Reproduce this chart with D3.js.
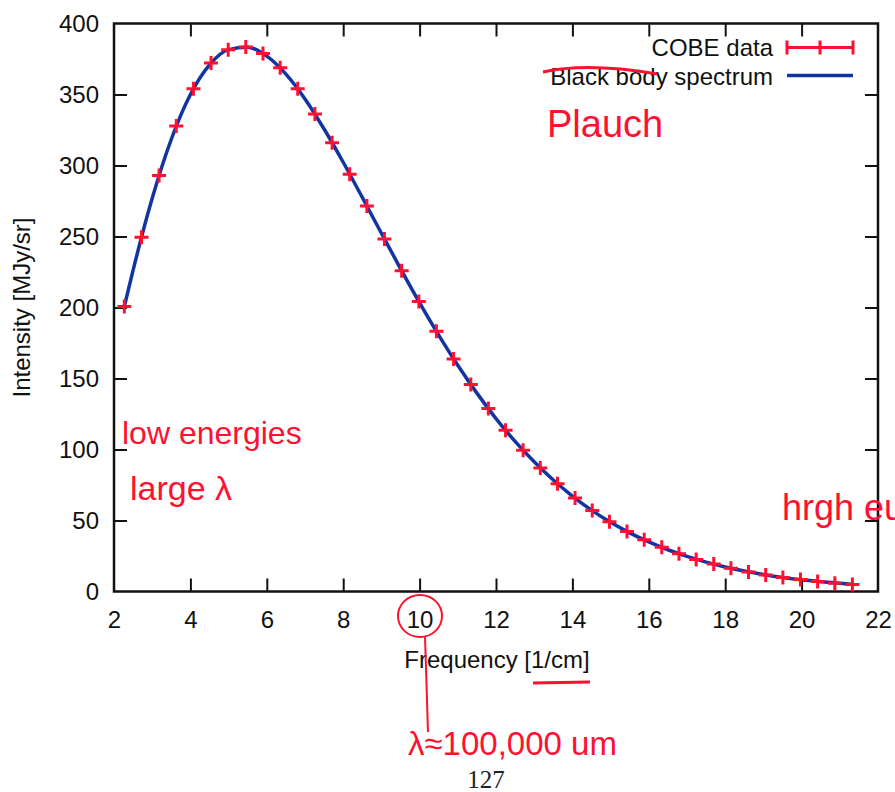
<!DOCTYPE html>
<html>
<head>
<meta charset="utf-8">
<script src="https://cdn.jsdelivr.net/npm/d3@7"></script>
<style>
  body { margin: 0; background: #fff; }
  text { font-family: "Liberation Sans", Arial, sans-serif; }
  .note { font-family: "Liberation Sans Narrow", "Liberation Sans", sans-serif; fill: #ff1030; }
</style>
</head>
<body>
<div id="wrapper"></div>
<script>
// COBE FIRAS data (frequency in 1/cm, intensity in MJy/sr)
const cobeFreq = [2.27, 2.72, 3.18, 3.63, 4.08, 4.54, 4.99, 5.45, 5.90, 6.35, 6.81, 7.26, 7.71,
  8.17, 8.62, 9.08, 9.53, 9.98, 10.44, 10.89, 11.34, 11.80, 12.25, 12.71, 13.16, 13.61, 14.07,
  14.52, 14.97, 15.43, 15.88, 16.34, 16.79, 17.24, 17.70, 18.15, 18.61, 19.06, 19.51, 19.97,
  20.42, 20.87, 21.33];
const cobeIntensity = [200.7, 249.5, 293.0, 327.8, 354.1, 372.1, 381.5, 383.5, 378.9, 368.8,
  354.1, 336.3, 316.1, 293.9, 271.4, 248.2, 225.9, 204.3, 183.3, 163.8, 145.8, 128.8, 113.6,
  99.5, 87.0, 75.9, 65.8, 57.0, 49.2, 42.3, 36.4, 31.1, 26.6, 22.6, 19.3, 16.4, 13.8, 11.7,
  9.9, 8.4, 7.1, 5.8, 5.0];

// black body curve
const curveFreq = [2.27, 2.5, 3, 3.5, 4, 4.5, 5, 5.5, 6, 6.5, 7, 7.5, 8, 8.5, 9, 9.5, 10, 10.5,
  11, 11.5, 12, 12.5, 13, 13.5, 14, 14.5, 15, 15.5, 16, 16.5, 17, 17.5, 18, 18.5, 19, 19.5, 20,
  20.5, 21, 21.33];
const curveIntensity = [200.7, 226.3, 276.9, 318.5, 350.0, 370.9, 381.6, 383.3, 377.0, 364.4,
  346.9, 325.7, 302.3, 277.5, 252.3, 227.4, 203.3, 180.6, 159.3, 139.7, 121.8, 105.7, 91.3,
  78.5, 67.2, 57.3, 48.7, 41.3, 34.9, 29.4, 24.7, 20.7, 17.3, 14.4, 12.0, 9.9, 8.2, 6.9, 5.8, 5.1];

const xTicks = [2, 4, 6, 8, 10, 12, 14, 16, 18, 20, 22];
const yTicks = [0, 50, 100, 150, 200, 250, 300, 350, 400];

const legendLabels = ["COBE data", "Black body spectrum"];

const red = "#ff1030";
const blue = "#1234a0";

const dimensions = {
  width: 895,
  height: 792,
  margin: { top: 23.5, bottom: 200.5, left: 114, right: 17 },
};
dimensions.boundedWidth = dimensions.width - dimensions.margin.left - dimensions.margin.right;
dimensions.boundedHeight = dimensions.height - dimensions.margin.top - dimensions.margin.bottom;

const wrapper = d3.select("#wrapper").append("svg")
  .attr("width", dimensions.width)
  .attr("height", dimensions.height);

const bounds = wrapper.append("g")
  .attr("transform", `translate(${dimensions.margin.left},${dimensions.margin.top})`);

const xScale = d3.scaleLinear().domain([2, 22]).range([0, dimensions.boundedWidth]);
const yScale = d3.scaleLinear().domain([0, 400]).range([dimensions.boundedHeight, 0]);

// axes: inward ticks on all four sides, labels on bottom/left
const tickLen = 13;
const styleAxis = (g) => {
  g.select(".domain").remove();
  g.selectAll(".tick line").attr("stroke", "#111").attr("stroke-width", 2);
  g.selectAll(".tick text").attr("fill", "#111").style("font-size", "24px");
};

bounds.append("g")
  .attr("transform", `translate(0,${dimensions.boundedHeight})`)
  .call(d3.axisBottom(xScale).tickValues(xTicks).tickSizeInner(-tickLen).tickPadding(tickLen + 6))
  .call(styleAxis);
bounds.append("g")
  .call(d3.axisTop(xScale).tickValues(xTicks).tickSizeInner(-tickLen).tickFormat(""))
  .call(styleAxis);
bounds.append("g")
  .call(d3.axisLeft(yScale).tickValues(yTicks).tickSizeInner(-tickLen).tickPadding(tickLen + 2))
  .call(styleAxis);
bounds.append("g")
  .attr("transform", `translate(${dimensions.boundedWidth},0)`)
  .call(d3.axisRight(yScale).tickValues(yTicks).tickSizeInner(-tickLen).tickFormat(""))
  .call(styleAxis);

// hide end ticks that sit on the frame
bounds.selectAll(".tick").filter((d) => d === 2 || d === 22 || d === 0 || d === 400)
  .select("line").attr("stroke", "none");

bounds.append("rect")
  .attr("width", dimensions.boundedWidth)
  .attr("height", dimensions.boundedHeight)
  .attr("fill", "none")
  .attr("stroke", "#111")
  .attr("stroke-width", 2.5);

// curve
const lineGen = d3.line()
  .x((i) => xScale(curveFreq[i]))
  .y((i) => yScale(curveIntensity[i]))
  .curve(d3.curveMonotoneX);

bounds.append("path")
  .attr("d", lineGen(d3.range(curveFreq.length)))
  .attr("fill", "none")
  .attr("stroke", blue)
  .attr("stroke-width", 3.5);

// data crosses
const s = 7;
bounds.append("g").selectAll("path")
  .data(d3.range(cobeFreq.length))
  .join("path")
  .attr("transform", (i) => `translate(${xScale(cobeFreq[i])},${yScale(cobeIntensity[i])})`)
  .attr("d", `M${-s},0H${s}M0,${-s}V${s}`)
  .attr("stroke", red)
  .attr("stroke-width", 3)
  .attr("fill", "none");

// legend
const legend = bounds.append("g").attr("transform", `translate(${dimensions.boundedWidth - 105},0)`);
legend.append("text").attr("x", 0).attr("y", 32).attr("text-anchor", "end")
  .style("font-size", "24px").attr("fill", "#111").text(legendLabels[0]);
legend.append("text").attr("x", 0).attr("y", 61).attr("text-anchor", "end")
  .style("font-size", "24px").attr("fill", "#111").text(legendLabels[1]);
legend.append("path")
  .attr("d", "M14,24H80M14,17V31M47,17V31M80,17V31")
  .attr("stroke", red).attr("stroke-width", 3).attr("fill", "none");
legend.append("path")
  .attr("d", "M14,52H80")
  .attr("stroke", blue).attr("stroke-width", 3.5).attr("fill", "none");

// axis titles
wrapper.append("text")
  .attr("x", 497)
  .attr("y", 668)
  .attr("text-anchor", "middle")
  .style("font-size", "24px").attr("fill", "#111")
  .text("Frequency [1/cm]");
wrapper.append("text")
  .attr("transform", `translate(30,${dimensions.margin.top + dimensions.boundedHeight / 2})rotate(-90)`)
  .attr("text-anchor", "middle")
  .style("font-size", "24px").attr("fill", "#111")
  .text("Intensity [MJy/sr]");

// page number
wrapper.append("text")
  .attr("x", 486).attr("y", 788)
  .attr("text-anchor", "middle")
  .style("font-family", "'Liberation Serif', serif").style("font-size", "25px")
  .attr("fill", "#222")
  .text("127");

// handwritten notes
const notes = wrapper.append("g");
notes.append("text").attr("class", "note").attr("x", 547).attr("y", 137).style("font-size", "38px").text("Plauch");
notes.append("text").attr("class", "note").attr("x", 122).attr("y", 444).style("font-size", "32px").text("low energies");
notes.append("text").attr("class", "note").attr("x", 130).attr("y", 500).style("font-size", "34px").text("large λ");
notes.append("text").attr("class", "note").attr("x", 782).attr("y", 520).style("font-size", "36px").text("hrgh eu");
notes.append("text").attr("class", "note").attr("x", 408).attr("y", 755).style("font-size", "33px").text("λ≈100,000 um");
notes.append("path").attr("d", "M543,72 C570,66 610,66 657,74")
  .attr("stroke", red).attr("stroke-width", 3).attr("fill", "none");
notes.append("ellipse").attr("cx", 420).attr("cy", 616).attr("rx", 22).attr("ry", 21)
  .attr("stroke", red).attr("stroke-width", 2).attr("fill", "none");
notes.append("path").attr("d", "M425,637 L428,732")
  .attr("stroke", red).attr("stroke-width", 2).attr("fill", "none");
notes.append("path").attr("d", "M533,683 L590,682")
  .attr("stroke", red).attr("stroke-width", 3).attr("fill", "none");
</script>
</body>
</html>
